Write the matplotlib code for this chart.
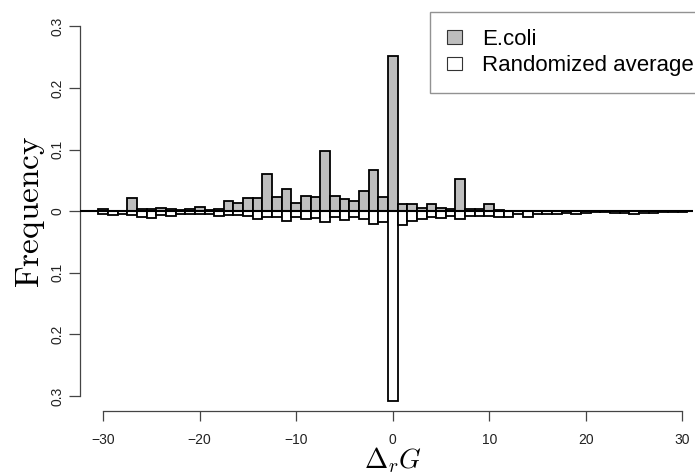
import matplotlib.pyplot as plt
import numpy as np

plt.rcParams['font.family'] = ['Liberation Sans', 'DejaVu Sans']
plt.rcParams['mathtext.fontset'] = 'cm'

# reaction free energy bins
dg = np.arange(-30, 31)

ecoli = [0.003, 0.001, 0.001, 0.022, 0.003, 0.003, 0.006, 0.003, 0.002, 0.003,
         0.007, 0.002, 0.003, 0.017, 0.014, 0.021, 0.021, 0.061, 0.023, 0.036,
         0.014, 0.025, 0.023, 0.097, 0.025, 0.020, 0.017, 0.033, 0.067, 0.023,
         0.252,
         0.011, 0.011, 0.005, 0.011, 0.006, 0.003, 0.052, 0.003, 0.003, 0.011,
         0.002, 0.001, 0.000, 0.001, 0.001, 0.000, 0.001, 0.001, 0.001, 0.001,
         0.001, 0.001, 0.001, 0.001, 0.001, 0.001, 0.001, 0.000, 0.000, 0.000]

randomized = [0.005, 0.006, 0.005, 0.006, 0.009, 0.011, 0.006, 0.008, 0.005, 0.005,
              0.005, 0.005, 0.008, 0.006, 0.006, 0.008, 0.012, 0.009, 0.009, 0.016,
              0.009, 0.012, 0.011, 0.018, 0.009, 0.015, 0.010, 0.013, 0.020, 0.018,
              0.308,
              0.022, 0.016, 0.013, 0.010, 0.011, 0.007, 0.013, 0.008, 0.008, 0.008,
              0.009, 0.010, 0.005, 0.009, 0.005, 0.004, 0.004, 0.003, 0.004, 0.003,
              0.001, 0.001, 0.003, 0.003, 0.004, 0.003, 0.003, 0.001, 0.001, 0.001]

yticks = [-0.3, -0.2, -0.1, 0, 0.1, 0.2, 0.3]
ytick_labels = ['0.3', '0.2', '0.1', '0', '0.1', '0.2', '0.3']
xticks = [-30, -20, -10, 0, 10, 20, 30]

fig = plt.figure(figsize=(6.95, 4.74), dpi=100)
ax = fig.add_axes([0.1151, 0.1335, 0.90, 0.8418])

ax.bar(dg, ecoli, width=1, color='#bebebe', edgecolor='black', linewidth=1.3,
       label='E.coli', zorder=2)
ax.bar(dg, -np.array(randomized), width=1, color='white', edgecolor='black',
       linewidth=1.3, label='Randomized average', zorder=2)
ax.hlines(0, -32.4, 31.1, color='black', linewidth=1.5, zorder=3)

ax.set_xlim(-32.4, 32.4)
ax.set_ylim(-0.324, 0.324)

for s in ['top', 'right']:
    ax.spines[s].set_visible(False)
ax.spines['left'].set_bounds(-0.3, 0.3)
ax.spines['bottom'].set_bounds(-30, 30)
for s in ['left', 'bottom']:
    ax.spines[s].set_color('#444444')
    ax.spines[s].set_linewidth(0.9)

ax.set_yticks(yticks)
ax.set_yticklabels(ytick_labels, rotation=90, va='center')
ax.set_xticks(xticks)
ax.set_xticklabels(['\u221230', '\u221220', '\u221210', '0', '10', '20', '30'])
ax.tick_params(axis='y', length=8, pad=3, labelsize=10, color='#444444',
               labelcolor='#222222', width=0.9)
ax.tick_params(axis='x', length=7, pad=9, labelsize=10, color='#444444',
               labelcolor='#222222', width=0.9)

ax.set_ylabel(r'$\mathrm{Frequency}$', fontsize=24, labelpad=3)
ax.set_xlabel(r'$\Delta_r G$', fontsize=20, labelpad=-1)

leg = ax.legend(loc='upper left', bbox_to_anchor=(430 / 695, 1 - 12 / 474),
                bbox_transform=fig.transFigure, fontsize=16, frameon=True,
                fancybox=False, edgecolor='#777777', borderpad=0.75,
                labelspacing=0.25, handlelength=0.7, handleheight=0.55,
                handletextpad=0.9, borderaxespad=0)
leg.get_frame().set_linewidth(1.0)
for h in leg.legend_handles:
    h.set_linewidth(0.8)
    h.set_edgecolor('#333333')

fig.savefig('out.png', dpi=100)
